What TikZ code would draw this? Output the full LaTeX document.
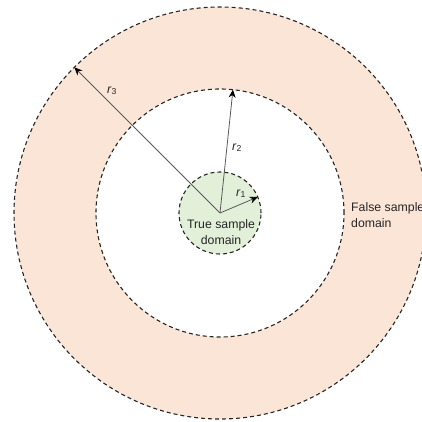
\documentclass[tikz,border=0pt]{standalone}
\usepackage{fontspec}
\setmainfont{Liberation Sans}
\usetikzlibrary{arrows.meta}
\definecolor{ringfill}{HTML}{FBE5D6}
\definecolor{corefill}{HTML}{E2F0D9}
\definecolor{radiusgray}{HTML}{595959}
\definecolor{inkgray}{HTML}{262626}
\begin{document}
\begin{tikzpicture}[x=1pt,y=-1pt,
  domainedge/.style={circle, draw=inkgray, dash pattern=on 4pt off 3pt, line width=1.1pt, inner sep=0pt, outer sep=0pt},
  radiusarrow/.style={draw=radiusgray, line width=0.8pt, -{Stealth[length=8pt,width=7pt,black]}},
  txt/.style={font=\fontsize{12.3}{15.8}\selectfont, text=inkgray, inner sep=0pt}
]
\useasboundingbox (0,0) rectangle (422,421);
\clip (0,0) rectangle (422,421);
\coordinate (c) at (220,213);
% three concentric sample domains
\node[domainedge, fill=ringfill, minimum size=412pt] (outer) at (c) {};
\node[domainedge, fill=white, minimum size=248pt] (inner) at (c) {};
\node[domainedge, fill=corefill, minimum size=82pt] (core) at (c) {};
% radii
\draw[radiusarrow] (c) -- (outer.135);
\draw[radiusarrow] (c) -- (inner.84);
\draw[radiusarrow] (c) -- (core.23);
\node[txt, anchor=base] (r3) at (112,93) {\textit{r}\textsubscript{3}};
\node[txt, anchor=base] (r2) at (237,150) {\textit{r}\textsubscript{2}};
\node[txt, anchor=base] (r1) at (241,196) {\textit{r}\textsubscript{1}};
% domain captions (base anchor sits on the last line)
\node[txt, align=center, anchor=base] (truecap) at (221,244) {True sample\\domain};
\node[txt, align=left, anchor=base west] (falsecap) at (351,227) {False sample\\domain};
\end{tikzpicture}
\end{document}
